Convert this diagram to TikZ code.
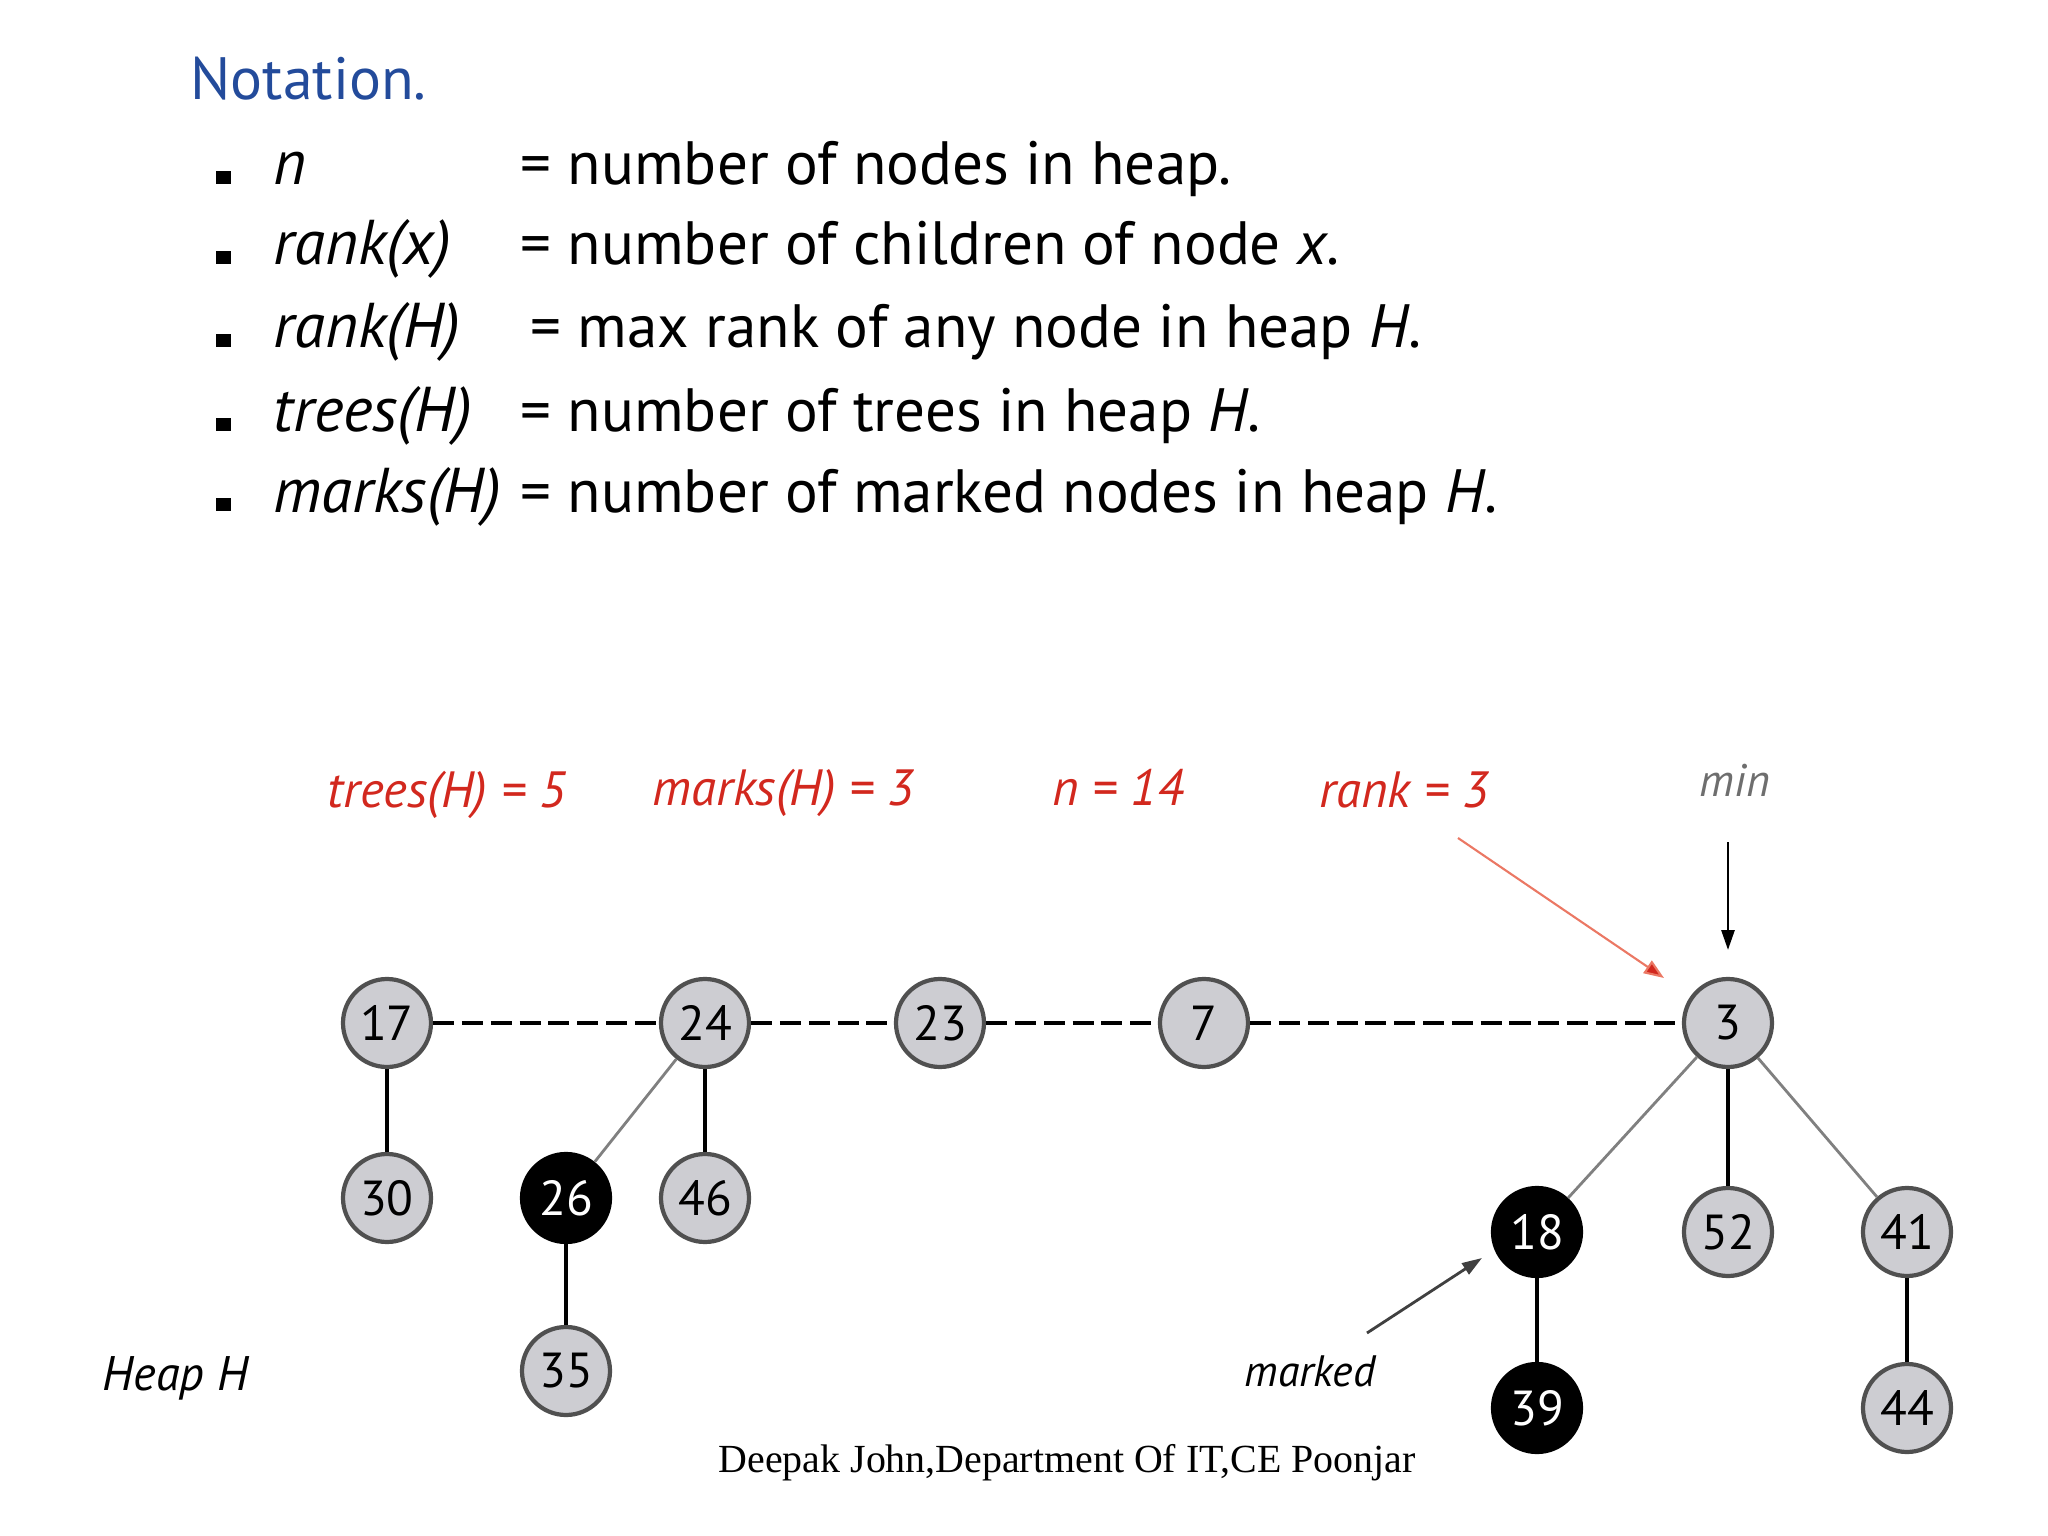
\documentclass[tikz,border=0pt]{standalone}
\usepackage{fontspec}
\setmainfont{PT Sans}
\newfontfamily\footfont{Liberation Serif}
\usetikzlibrary{arrows.meta}
\definecolor{notblue}{RGB}{35,75,155}
\definecolor{labred}{RGB}{210,40,30}
\definecolor{arrred}{RGB}{235,120,100}
\definecolor{nodegray}{RGB}{205,205,210}
\definecolor{rimgray}{RGB}{80,80,80}
\definecolor{mingray}{RGB}{110,110,110}

\begin{document}
\begin{tikzpicture}[
    item/.style={anchor=base west, inner sep=0, font=\fontsize{17.4}{20}\selectfont},
    term/.style={item, font=\fontsize{18}{21}\selectfont\itshape},
    bulletsq/.style={fill=black, minimum width=0.15cm, minimum height=0.13cm,
                     inner sep=0, anchor=south west},
    heapnode/.style={circle, draw=rimgray, line width=1.2pt, fill=nodegray,
                     minimum size=0.88cm, inner sep=0, font=\fontsize{14}{16}\selectfont},
    marknode/.style={heapnode, fill=black, draw=black, text=white},
    lab/.style={anchor=base west, inner sep=0, text=labred,
                font=\fontsize{14.5}{17}\selectfont\itshape},
    note/.style={anchor=base west, inner sep=0, font=\fontsize{13}{15}\selectfont\itshape},
    child/.style={black, line width=1pt},
    slant/.style={draw=gray, line width=0.8pt},
    rootlist/.style={line width=1.2pt, dash pattern=on 6pt off 2.2pt},
]
\useasboundingbox (0,0) rectangle (20.48,-15.36);

% notation list
\node[anchor=base west, inner sep=0, text=notblue, font=\fontsize{17}{20}\selectfont]
    (title) at (1.90,-1.00) {Notation.};
\foreach \y [count=\i] in {-1.85,-2.65,-3.48,-4.32,-5.12}
    \node[bulletsq] (b\i) at (2.15,\y) {};
\node[term] (t1) at (2.73,-1.85) {n};
\node[item] (d1) at (5.20,-1.85) {= number of nodes in heap.};
\node[term] (t2) at (2.73,-2.65) {rank(x)};
\node[item] (d2) at (5.20,-2.65) {= number of children of node \textit{x}.};
\node[term] (t3) at (2.73,-3.48) {rank(H)};
\node[item] (d3) at (5.30,-3.48) {= max rank of any node in heap \textit{H}.};
\node[term] (t4) at (2.73,-4.32) {trees(H)};
\node[item] (d4) at (5.20,-4.32) {= number of trees in heap \textit{H}.};
\node[term] (t5) at (2.73,-5.12) {marks(H)};
\node[item] (d5) at (5.20,-5.12) {= number of marked nodes in heap \textit{H}.};

% labels over the heap
\node[lab] (ltrees) at (3.27,-8.08) {trees(H) = 5};
\node[lab] (lmarks) at (6.52,-8.05) {marks(H) = 3};
\node[lab] (lsize)  at (10.52,-8.05) {n = 14};
\node[lab] (lrank)  at (13.19,-8.08) {rank = 3};
\node[note, text=mingray] (lmin) at (16.99,-7.97) {min};
\node[note, font=\fontsize{13.8}{16}\selectfont\itshape] (lheap) at (1.02,-13.90) {Heap H};
\node[note, font=\fontsize{12.5}{15}\selectfont\itshape] (lmarked) at (12.44,-13.86) {marked};

% heap nodes
\node[heapnode] (n17) at (3.87,-10.23) {17};
\node[heapnode] (n24) at (7.05,-10.23) {24};
\node[heapnode] (n23) at (9.40,-10.23) {23};
\node[heapnode] (n7)  at (12.04,-10.23) {7};
\node[heapnode] (n3)  at (17.28,-10.23) {3};
\node[heapnode] (n30) at (3.87,-11.98) {30};
\node[marknode] (n26) at (5.66,-11.98) {26};
\node[heapnode] (n46) at (7.05,-11.98) {46};
\node[heapnode] (n35) at (5.66,-13.71) {35};
\node[marknode] (n18) at (15.37,-12.32) {18};
\node[heapnode] (n52) at (17.28,-12.32) {52};
\node[heapnode] (n41) at (19.07,-12.32) {41};
\node[marknode] (n39) at (15.37,-14.08) {39};
\node[heapnode] (n44) at (19.07,-14.08) {44};

\draw[rootlist] (n17) -- (n24);
\draw[rootlist] (n24) -- (n23);
\draw[rootlist] (n23) -- (n7);
\draw[rootlist] (n7)  -- (n3);

\draw[child] (n17) -- (n30);
\draw[slant] (n24) -- (n26);
\draw[child] (n24) -- (n46);
\draw[child] (n26) -- (n35);
\draw[slant] (n3)  -- (n18);
\draw[child] (n3)  -- (n52);
\draw[slant] (n3)  -- (n41);
\draw[child] (n18) -- (n39);
\draw[child] (n41) -- (n44);

% pointers
\coordinate (rankfrom) at (14.58,-8.38);
\coordinate (rankto)   at (16.64,-9.78);
\coordinate (minfrom)  at (17.28,-8.42);
\coordinate (minto)    at (17.28,-9.50);
\coordinate (markfrom) at (13.67,-13.33);
\coordinate (markto)   at (14.82,-12.58);
\draw[arrred, line width=0.6pt, -{Triangle[length=0.2cm, width=0.15cm, fill=labred]}]
    (rankfrom) -- (rankto);
\draw[line width=0.8pt, -{Triangle[length=0.2cm, width=0.13cm]}] (minfrom) -- (minto);
\draw[black!75, line width=0.8pt, -{Triangle[length=0.2cm, width=0.13cm]}]
    (markfrom) -- (markto);

\node[anchor=base west, inner sep=0, font=\footfont\fontsize{11.35}{14}\selectfont]
    (footer) at (7.18,-14.72) {Deepak John,Department Of IT,CE Poonjar};
\end{tikzpicture}
\end{document}
